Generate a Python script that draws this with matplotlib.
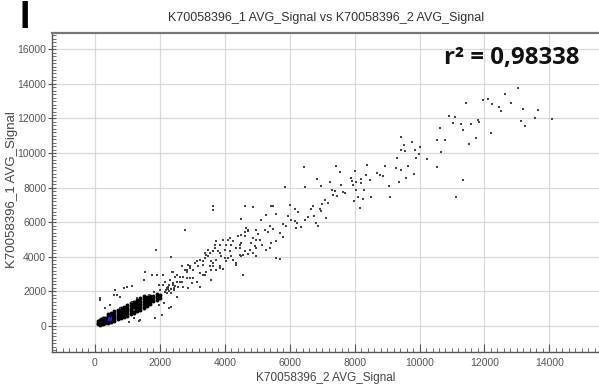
import matplotlib
matplotlib.use("Agg")
import matplotlib.pyplot as plt
from matplotlib.ticker import MultipleLocator

title = "K70058396_1 AVG_Signal vs K70058396_2 AVG_Signal"
x_label = "K70058396_2 AVG_Signal"
y_label = "K70058396_1 AVG_Signal"
r2_text = "r² = 0,98338"
panel_label = "I"

# sparse points (x = array 2, y = array 1)
scatter_x = [
    13025, 12646, 12102, 11969, 11437, 12237, 12462, 12831, 12523, 13190, 13640, 13569, 14082, 13138, 13262,
    10902, 11087, 11025, 11282, 11590, 11805, 11846, 10636, 11354, 12194, 10533, 10800, 11744, 11518, 10655,
    10544, 11333, 11128, 10021, 9969, 10225, 9898, 9846, 9775, 9508, 9437, 9415, 9538, 9640, 9825, 9569, 9415,
    9302, 9262, 8923, 8769, 8871, 8686, 8390, 8000, 8360, 8185, 8462, 8052, 8205, 9056, 9354, 7877, 7908, 7948,
    8052, 8277, 8103, 8256, 8513, 9077, 8154, 7979, 7415, 7538, 6431, 6840, 7252, 6462, 6954, 7313, 7385, 7590,
    7641, 7692, 7333, 7467, 7077, 7179, 7006, 6718, 6646, 6923, 6975, 6738, 6564, 6462, 6154, 6256, 7128, 6000,
    6051, 6154, 6821, 6872, 6185, 6359,
    5846, 3621, 4615, 4872, 5436, 4513, 5282, 5128, 5590, 5949, 6225, 2769, 5795, 5877, 5385, 5487, 5231, 5333,
    4954, 5026, 4667, 4718, 4513, 4615, 5692, 5795, 5590, 5436, 5077, 5159, 4821, 4923, 5282, 5385, 4462, 4359,
    4154, 4256, 3949, 4051, 3744, 3692, 4000, 4154, 4615, 4718, 3846, 3897, 3641, 3487, 3385, 3436, 4000, 4051,
    4256, 4359, 4462, 4513, 5590, 5692, 4974, 3744, 3641, 3231, 3333, 3077, 3180, 4564, 3846, 3949, 3538, 3590,
    2923, 3026, 2821, 3231, 3385, 2718, 2923,
    4718, 4615, 4872, 4974, 4410, 4513, 4103, 4205, 3846, 3692, 3795, 4103, 4205, 4462, 4564, 4769, 4872, 4974,
    3538, 3385, 3487, 3590, 3128, 3333, 2923, 2821, 3641, 3744, 3846, 4359, 3333, 3436, 2615, 2821, 3026, 3128,
    2974, 3590, 2410, 2513, 2308, 2410, 2513, 2718, 2872, 3231, 2103, 2205, 2000, 2103,
    1877, 2338, 1538, 975, 1128, 595, 769, 1210, 1385, 2338, 2769, 2872, 2667, 2462, 2615, 2154, 2256, 2410, 1897,
    3641, 5487, 154, 615,
    883, 1500, 1757, 678, 164, 318, 472, 781, 1962, 2117, 2271, 1859, 2065, 1037, 1345, 1191, 2630, 2681, 2373,
    2271, 2425, 2527, 1962, 1651, 1806, 1140, 1294,
    2210, 2290, 2350, 2180, 2330, 2420, 2480, 2560, 2150, 2260,
]
scatter_y = [
    13780, 13391, 13140, 13060, 12910, 12812, 12677, 12870, 12406, 12522, 12464, 12019, 11980, 11844, 11555,
    12135, 12077, 11748, 11690, 11690, 11903, 11787, 11459, 11304, 11168, 10725, 10725, 10840, 10493, 10068,
    9198, 8464, 7438, 10338, 9932, 9662, 9720, 10203, 10628, 10435, 10937, 10164, 10106, 9275, 8812, 8541, 9005,
    9720, 9140, 9236, 8754, 8696, 8850, 9333, 8947, 8754, 8500, 8425, 8309, 8270, 8077, 8347, 8560, 8367, 8174,
    7884, 7884, 7458, 7342, 7458, 7458, 6821, 7246, 9236, 8889, 9178, 8522, 8309, 8019, 8077, 7884, 7826, 8135,
    7729, 7690, 7594, 7536, 7304, 7111, 7072, 6956, 6763, 6763, 6628, 6338, 6299, 6106, 6763, 6570, 6241, 7014,
    6145, 6048, 5952, 5797, 5662, 5720,
    8039, 6918, 6918, 6860, 6918, 6183, 6435, 6145, 6493, 6338, 5952, 5527, 5913, 5759, 5759, 5604, 5565, 5411,
    5565, 5333, 5662, 5469, 5275, 5178, 5372, 5140, 4889, 4792, 4986, 4696, 4792, 4599, 4406, 4502, 4696, 4502,
    5082, 4889, 4986, 4696, 4889, 4696, 4406, 4309, 4309, 4174, 4213, 4058, 4309, 4406, 4213, 4116, 3923, 3729,
    3826, 3633, 4116, 4019, 3923, 3865, 4058, 3826, 3633, 3826, 3729, 3633, 3478, 2956, 3440, 3285, 3440, 3246,
    3343, 3246, 3150, 3053, 2956, 2860, 2763,
    5565, 5430, 5082, 4986, 5178, 4792, 4986, 4657, 4696, 4502, 4309, 3923, 4019, 4502, 4116, 4406, 4213, 4502,
    4213, 3923, 4019, 3768, 3729, 3536, 3440, 3246, 3440, 3246, 3343, 3536, 2956, 3150, 2860, 2763, 2763, 2570,
    2473, 2667, 3150, 2956, 2667, 2473, 2570, 2280, 2183, 2280, 2377, 2183, 2087, 2956,
    4406, 3981, 3150, 2242, 2319, 1797, 1662, 928, 348, 1121, 3246, 3536, 3440, 2860, 2570, 2570, 2280, 2377, 2956,
    6725, 6918, 1507, 2087,
    2179, 2659, 2948, 1792, 1601, 1023, 1214, 1023, 1214, 1312, 1023, 445, 636, 249, 289, 445, 2850, 2561, 3139,
    2370, 2081, 1694, 2370, 1792, 1983, 1405, 1601,
    1880, 2010, 2150, 2060, 1900, 2190, 2330, 2260, 1960, 2120,
]

# dense cloud near the origin, drawn with heavier dots
core_x = [
    100, 100, 100,
    150, 150, 150, 150,
    200, 200, 200, 200,
    250, 250, 250, 250,
    300, 300, 300, 300,
    400, 400, 400, 400, 400,
    500, 500, 500, 500, 500,
    600, 600, 600, 600, 600,
    700, 700, 700, 700, 700,
    800, 800, 800, 800, 800,
    900, 900, 900, 900, 900,
    1000, 1000, 1000, 1000, 1000,
    1100, 1100, 1100, 1100, 1100,
    1200, 1200, 1200, 1200, 1200,
    1300, 1300, 1300, 1300, 1300,
    1400, 1400, 1400, 1400, 1400,
    1500, 1500, 1500, 1500, 1500,
    1600, 1600, 1600, 1600,
    1700, 1700, 1700, 1700,
    1800, 1800, 1800,
    1900, 1900, 1900,
    2000, 2000,
]
core_y = [
    90, 180, 270,
    80, 170, 260, 360,
    110, 200, 300, 400,
    130, 230, 340, 450,
    150, 260, 370, 490,
    190, 320, 440, 570, 680,
    250, 380, 500, 630, 760,
    310, 450, 580, 710, 850,
    380, 520, 660, 800, 940,
    450, 600, 740, 880, 1030,
    520, 670, 820, 970, 1120,
    600, 750, 900, 1050, 1210,
    680, 840, 1000, 1150, 1310,
    760, 930, 1090, 1250, 1410,
    850, 1020, 1180, 1340, 1510,
    940, 1110, 1280, 1440, 1610,
    1040, 1210, 1370, 1540, 1710,
    1180, 1340, 1500, 1660,
    1280, 1440, 1600, 1760,
    1420, 1590, 1750,
    1520, 1690, 1850,
    1640, 1820,
]

# the one highlighted (blue) probe
sel_x = [462]
sel_y = [406]

fig = plt.figure(figsize=(5.99, 3.92), dpi=100)
ax = fig.add_axes([0.0863, 0.1013, 0.9137, 0.8137])

ax.scatter(core_x, core_y, s=8, c="#000000", marker="o", linewidths=0, zorder=3)
ax.scatter(scatter_x, scatter_y, s=1.8, c="#444444", marker="s", linewidths=0, zorder=3)
ax.scatter(sel_x, sel_y, s=7, c="#1a1aff", marker="s", linewidths=0, zorder=4)

ax.set_xlim(-1334, 15530)
ax.set_ylim(-1520, 16920)
ax.xaxis.set_major_locator(MultipleLocator(2000))
ax.yaxis.set_major_locator(MultipleLocator(2000))
ax.xaxis.set_minor_locator(MultipleLocator(200))
ax.yaxis.set_minor_locator(MultipleLocator(200))

ax.grid(True, which="major", color="#d9d9d9", linewidth=0.9, zorder=0)
ax.set_axisbelow(True)

for s in ["left", "bottom"]:
    ax.spines[s].set_color("#555555")
    ax.spines[s].set_linewidth(1.0)
ax.spines["top"].set_color("#777777")
ax.spines["top"].set_linewidth(1.6)
ax.spines["right"].set_visible(False)

ax.tick_params(axis="x", which="major", direction="in", length=6, width=0.8, color="#555555",
               labelsize=7.5, labelcolor="#555555", pad=4)
ax.tick_params(axis="x", which="minor", direction="in", length=3, width=0.6, color="#555555")
ax.tick_params(axis="y", which="major", direction="inout", length=6, width=0.8, color="#555555",
               labelsize=7.5, labelcolor="#555555", pad=1)
ax.tick_params(axis="y", which="minor", direction="in", length=3, width=0.6, color="#555555")
for lbl in ax.get_xticklabels() + ax.get_yticklabels():
    lbl.set_family("Liberation Sans")

ax.set_xlabel(x_label, fontsize=8.5, color="#444444", family="Liberation Sans", labelpad=3)
ax.set_ylabel(y_label, fontsize=9.5, color="#444444", family="Liberation Sans")
ax.yaxis.set_label_coords(-0.061, 0.51)

fig.text(0.545, 0.954, title, ha="center", va="center", fontsize=9, color="#333333",
         family="Liberation Sans")
fig.text(0.041, 0.953, panel_label, ha="center", va="center", fontsize=27, fontweight="bold",
         color="#000000", family="Liberation Sans")
fig.text(0.855, 0.852, r2_text, ha="center", va="center", fontsize=17.3, fontweight="bold",
         color="#111111", family="Open Sans")

fig.savefig("out.png", dpi=100)
